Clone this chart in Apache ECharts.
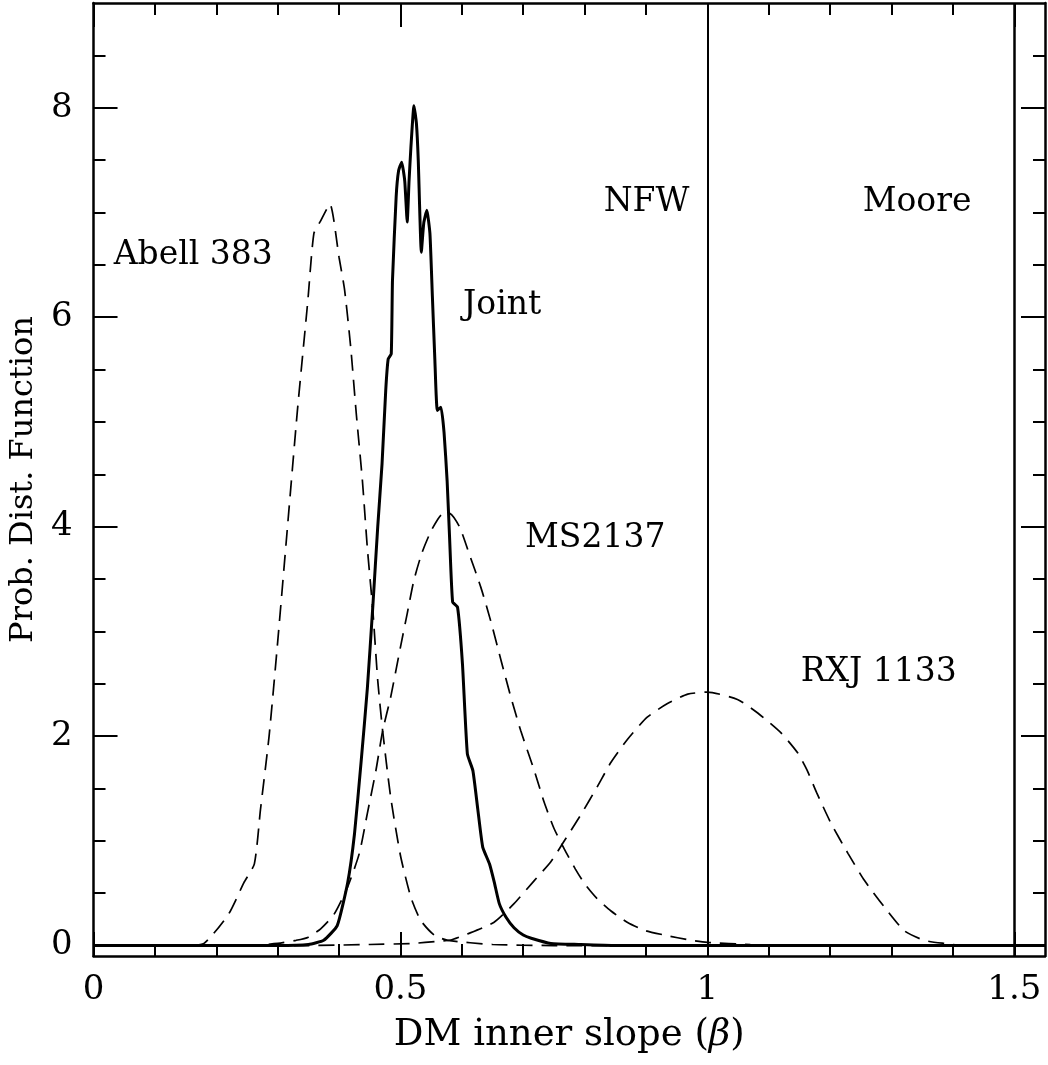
<!DOCTYPE html>
<html>
<head>
<meta charset="utf-8">
<script src="https://cdn.jsdelivr.net/npm/echarts@6/dist/echarts.min.js"></script>
<style>html,body{margin:0;padding:0;background:#fff;}#c{width:1048px;height:1065px;}</style>
</head>
<body>
<div id="c"></div>
<script>
// ---- data (x = DM inner slope beta, y = PDF) ----
const abell383 = [[0,0],[0.15,0],[0.18,0.02],[0.22,0.3],[0.245,0.6],[0.262,0.78],[0.272,1.3],[0.286,2.0],[0.3,2.9],[0.316,4.0],[0.332,5.1],[0.349,6.15],[0.359,6.8],[0.37,6.92],[0.385,7.08],[0.4,6.57],[0.409,6.26],[0.419,5.71],[0.428,5.08],[0.438,4.44],[0.446,3.8],[0.455,3.2],[0.463,2.53],[0.471,2.05],[0.484,1.42],[0.5,0.86],[0.517,0.46],[0.533,0.24],[0.555,0.1],[0.577,0.05],[0.65,0.01],[0.75,0],[1.55,0]];
const joint = [[0,0],[0.3,0],[0.35,0.01],[0.375,0.05],[0.397,0.19],[0.414,0.6],[0.425,1.06],[0.436,1.76],[0.446,2.45],[0.455,3.24],[0.463,4.0],[0.47,4.6],[0.476,5.3],[0.48,5.6],[0.485,5.65],[0.487,6.35],[0.493,7.15],[0.497,7.4],[0.502,7.48],[0.507,7.3],[0.511,6.91],[0.514,7.3],[0.517,7.62],[0.522,8.02],[0.526,7.85],[0.529,7.5],[0.534,6.62],[0.538,6.9],[0.543,7.02],[0.548,6.8],[0.552,6.2],[0.556,5.6],[0.56,5.11],[0.566,5.14],[0.571,4.9],[0.576,4.44],[0.58,3.9],[0.585,3.28],[0.593,3.23],[0.601,2.69],[0.609,1.83],[0.618,1.67],[0.626,1.3],[0.634,0.94],[0.645,0.78],[0.653,0.6],[0.661,0.4],[0.672,0.27],[0.685,0.17],[0.7,0.1],[0.713,0.07],[0.745,0.02],[0.79,0.01],[0.85,0],[1.55,0]];
const ms2137 = [[0,0],[0.25,0],[0.3,0.02],[0.33,0.05],[0.35,0.08],[0.37,0.16],[0.392,0.3],[0.414,0.56],[0.433,0.88],[0.446,1.26],[0.46,1.67],[0.471,2.05],[0.484,2.37],[0.5,2.85],[0.511,3.17],[0.522,3.49],[0.535,3.75],[0.55,3.96],[0.566,4.11],[0.579,4.13],[0.596,4.0],[0.612,3.74],[0.631,3.42],[0.647,3.1],[0.664,2.72],[0.68,2.37],[0.696,2.05],[0.718,1.67],[0.734,1.37],[0.75,1.12],[0.767,0.92],[0.785,0.73],[0.8,0.59],[0.82,0.45],[0.843,0.33],[0.87,0.22],[0.9,0.14],[0.93,0.1],[0.973,0.05],[1.0,0.03],[1.07,0.01],[1.15,0],[1.55,0]];
const rxj1133 = [[0,0],[0.35,0],[0.45,0.01],[0.52,0.02],[0.56,0.04],[0.58,0.05],[0.609,0.11],[0.652,0.22],[0.685,0.4],[0.718,0.62],[0.745,0.8],[0.767,1.0],[0.794,1.25],[0.821,1.52],[0.843,1.75],[0.87,1.97],[0.902,2.18],[0.935,2.31],[0.968,2.4],[1.0,2.42],[1.049,2.35],[1.082,2.22],[1.12,2.03],[1.147,1.84],[1.162,1.68],[1.178,1.46],[1.202,1.16],[1.229,0.88],[1.256,0.62],[1.288,0.37],[1.321,0.14],[1.353,0.05],[1.386,0.02],[1.42,0],[1.55,0]];
const modelLines = [1.0, 1.5]; // NFW, Moore
const annotTexts = ['Abell 383','Joint','NFW','Moore','MS2137','RXJ 1133'];
const annotX = [0.033,0.602,0.831,1.253,0.703,1.152];
const annotY = [6.59,6.11,7.1,7.1,3.89,2.61];
const xMajorTicks = [0,0.5,1,1.5];
const xMinorTicks = [0.1,0.2,0.3,0.4,0.6,0.7,0.8,0.9,1.1,1.2,1.3,1.4];
const xTickLabels = ['0','0.5','1','1.5'];
const yMajorTicks = [0,2,4,6,8];
const yMinorTicks = [0.5,1,1.5,2.5,3,3.5,4.5,5,5.5,6.5,7,7.5,8.5];
const yTickLabels = ['0','2','4','6','8'];

const FONT = 'DejaVu Serif';
const X_MIN = 0, X_MAX = 1.55, Y_MIN = -0.1, Y_MAX = 9;

function mkX(pos, ticks, len, showLine, labels) {
  return {
    type: 'value', position: pos, min: X_MIN, max: X_MAX,
    axisLine: {show: showLine, onZero: false, lineStyle: {color: '#000', width: 2.5}},
    axisTick: {show: true, inside: true, length: len, customValues: ticks, lineStyle: {color: '#000', width: 2}},
    axisLabel: labels ? {show: true, customValues: xMajorTicks, margin: 17, color: '#000', fontFamily: FONT, fontSize: 34,
      formatter: v => { const i = xMajorTicks.indexOf(+v.toFixed(3)); return i >= 0 ? xTickLabels[i] : ''; }} : {show: false},
    splitLine: {show: false}
  };
}
function mkY(pos, ticks, len, showLine, labels) {
  return {
    type: 'value', position: pos, min: Y_MIN, max: Y_MAX,
    axisLine: {show: showLine, onZero: false, lineStyle: {color: '#000', width: 2.5}},
    axisTick: {show: true, inside: true, length: len, customValues: ticks, lineStyle: {color: '#000', width: 2}},
    axisLabel: labels ? {show: true, customValues: yMajorTicks, margin: 21, color: '#000', fontFamily: FONT, fontSize: 34,
      formatter: v => { const i = yMajorTicks.indexOf(+v.toFixed(3)); return i >= 0 ? yTickLabels[i] : ''; }} : {show: false},
    splitLine: {show: false}
  };
}

const xAxes = [mkX('bottom', xMajorTicks, 24, true, true), mkX('bottom', xMinorTicks, 12, false, false),
               mkX('top', xMajorTicks, 24, true, false), mkX('top', xMinorTicks, 12, false, false)];
Object.assign(xAxes[0], {name: 'DM inner slope ({b|β})', nameLocation: 'middle', nameGap: 61,
  nameTextStyle: {color: '#000', fontFamily: FONT, fontSize: 37,
    rich: {b: {fontFamily: FONT, fontStyle: 'italic', fontSize: 37, color: '#000'}}}});
const yAxes = [mkY('left', yMajorTicks, 24, true, true), mkY('left', yMinorTicks, 12, false, false),
               mkY('right', yMajorTicks, 24, true, false), mkY('right', yMinorTicks, 12, false, false)];
Object.assign(yAxes[0], {name: 'Prob. Dist. Function', nameLocation: 'middle', nameGap: 50,
  nameTextStyle: {color: '#000', fontFamily: FONT, fontSize: 32}});

const dashed = {color: '#000', width: 1.7, type: [16, 9]};
const chart = echarts.init(document.getElementById('c'), null, {renderer: 'canvas'});
chart.setOption({
  animation: false,
  backgroundColor: '#fff',
  grid: {left: 92, right: 3, top: 3, bottom: 109, containLabel: false},
  xAxis: xAxes,
  yAxis: yAxes,
  series: [
    {name: 'Abell 383', type: 'line', data: abell383, showSymbol: false, smooth: 0.2, lineStyle: dashed, silent: true},
    {name: 'MS2137', type: 'line', data: ms2137, showSymbol: false, smooth: 0.2, lineStyle: dashed, silent: true},
    {name: 'RXJ 1133', type: 'line', data: rxj1133, showSymbol: false, smooth: 0.2, lineStyle: dashed, silent: true},
    {name: 'Joint', type: 'line', data: joint, showSymbol: false, smooth: 0.15, lineStyle: {color: '#000', width: 3}, silent: true,
      markLine: {silent: true, symbol: ['none','none'], label: {show: false},
        data: modelLines.map((v, i) => ({xAxis: v, lineStyle: {color: '#000', width: i === 0 ? 2 : 2.5, type: 'solid'}}))}},
    {name: 'labels', type: 'scatter', symbolSize: 0, silent: true, itemStyle: {opacity: 1, color: '#000'},
      data: annotTexts.map((t, i) => ({value: [annotX[i], annotY[i]], name: t})),
      label: {show: true, position: 'right', distance: 0, formatter: p => p.name, color: '#000', opacity: 1, fontFamily: FONT, fontSize: 33}}
  ]
});
</script>
</body>
</html>
